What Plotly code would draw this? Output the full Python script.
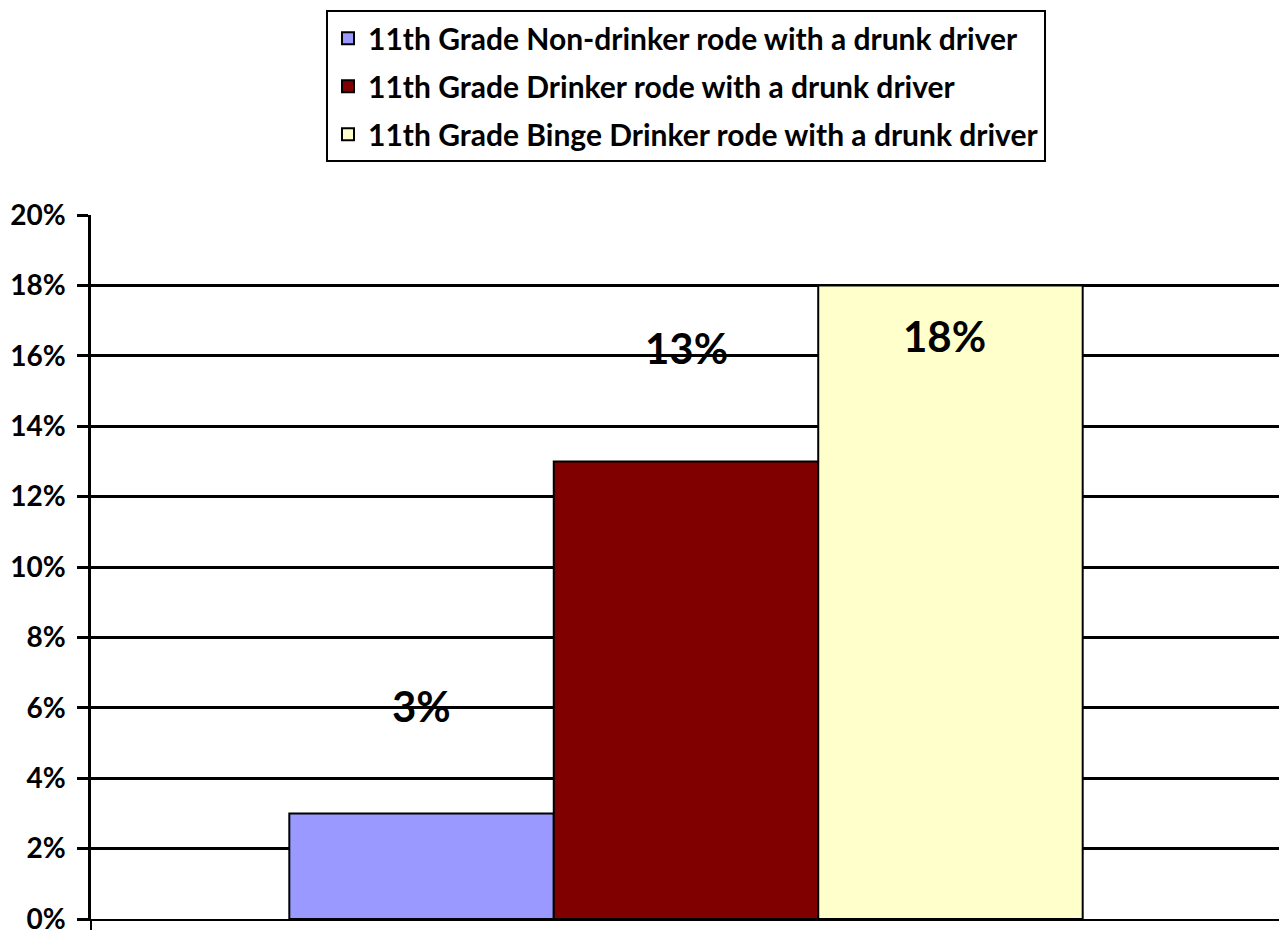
import plotly.graph_objects as go

categories = ["11th Grade"]
series_names = [
    "11th Grade Non-drinker rode with a drunk driver",
    "11th Grade Drinker rode with a drunk driver",
    "11th Grade Binge Drinker rode with a drunk driver",
]
series_values = [3, 13, 18]
series_colors = ["#9999FF", "#800000", "#FFFFCC"]
label_texts = ["3%", "13%", "18%"]
label_yshift = [107, 113, -51]
label_xshift = [-265, 0, 258]
tick_vals = list(range(0, 21, 2))
tick_text = [f"{v}%" for v in tick_vals]

FONT = "Lato, 'Open Sans', sans-serif"

fig = go.Figure()
for i, (name, val, col) in enumerate(zip(series_names, series_values, series_colors)):
    fig.add_trace(go.Bar(
        x=categories, y=[val], name=name, legendgroup=f"g{i}",
        marker=dict(color=col, line=dict(color="black", width=2)),
    ))

for val, txt, ys, xs in zip(series_values, label_texts, label_yshift, label_xshift):
    fig.add_annotation(x=categories[0], y=val, text=f"<b>{txt}</b>", showarrow=False,
                       xshift=xs, yshift=ys, font=dict(size=42, color="black", family=FONT))

fig.update_layout(
    width=1279, height=922,
    margin=dict(l=83, r=6, t=207, b=11, autoexpand=False),
    paper_bgcolor="white", plot_bgcolor="white",
    barmode="group", bargap=0.3333, bargroupgap=0,
    font=dict(family=FONT, color="black"),
    showlegend=True,
    legend=dict(
        x=0.5, xanchor="center", y=1.291, yanchor="top",
        orientation="v", tracegroupgap=6,
        bordercolor="black", borderwidth=2,
        font=dict(size=30, family=FONT, color="black", weight="bold"),
        bgcolor="white",
    ),
    xaxis=dict(showticklabels=False, showline=True, linecolor="black", linewidth=2,
               ticks="outside", tickson="boundaries", ticklen=12, tickwidth=2,
               tickcolor="black", showgrid=False, range=[-0.5, 0.5], automargin=False),
    yaxis=dict(range=[0, 20], tickvals=tick_vals, ticktext=tick_text,
               showgrid=True, gridcolor="black", gridwidth=2.5,
               showline=True, linecolor="black", linewidth=2.5,
               ticks="outside", ticklen=11, tickwidth=2.5, tickcolor="black",
               ticklabelstandoff=6, ticklabeloverflow="allow",
               tickfont=dict(size=28, family=FONT, color="black", weight="bold"),
               zeroline=False, automargin=False),
)

fig.write_html("out.html")
